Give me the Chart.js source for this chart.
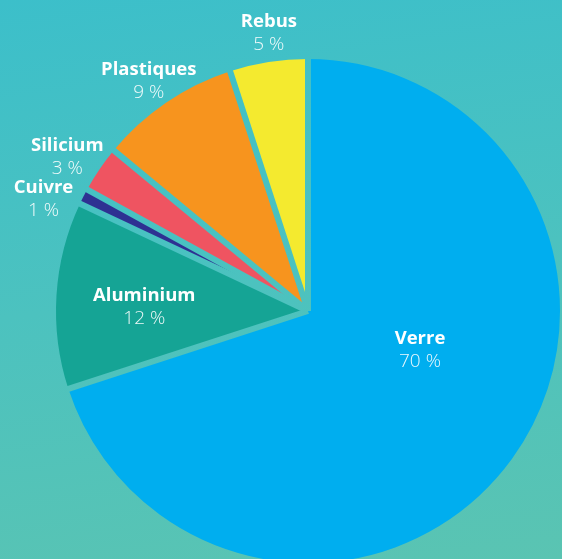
<!DOCTYPE html>
<html>
<head>
<meta charset="utf-8">
<script src="https://cdn.jsdelivr.net/npm/chart.js@4.4.0/dist/chart.umd.min.js"></script>
<style>
    html, body { margin: 0; padding: 0; }
    body {
        width: 562px;
        height: 559px;
        overflow: hidden;
        background: linear-gradient(172deg, #3cbfca 0%, #4cc2bf 50%, #5ac4b2 100%);
    }
    #wrap { position: relative; width: 562px; height: 559px; overflow: hidden; }
    canvas { position: absolute; left: 0; top: 0; }
</style>
</head>
<body>
<div id="wrap">
    <canvas id="pie" width="562" height="600"></canvas>
</div>
<script>
// Composition data (percent)
const labels = ['Verre', 'Aluminium', 'Cuivre', 'Silicium', 'Plastiques', 'Rebus'];
const values = [70, 12, 1, 3, 9, 5];
const colors = ['#00aeef', '#15a495', '#2e3192', '#ef5461', '#f7941e', '#f4ea2f'];

// Label placement: distance from centre (in radii) and angle nudge (deg) from slice middle
const labelDist = [0.47, 0.65, 1.14, 1.135, 1.11, 1.115];
const labelNudge = [-17, -2, -4, -1.5, -0.5, 1];

// Cut a gap along every slice edge so the page background shows through
const sliceGaps = {
    id: 'sliceGaps',
    afterDatasetsDraw(chart) {
        const ctx = chart.ctx;
        const arcs = chart.getDatasetMeta(0).data;
        ctx.save();
        ctx.globalCompositeOperation = 'destination-out';
        ctx.lineWidth = 6;
        ctx.lineCap = 'butt';
        arcs.forEach(arc => {
            const p = arc.getProps(['x', 'y', 'startAngle', 'outerRadius'], true);
            ctx.beginPath();
            ctx.moveTo(p.x, p.y);
            ctx.lineTo(p.x + Math.cos(p.startAngle) * (p.outerRadius + 4),
                       p.y + Math.sin(p.startAngle) * (p.outerRadius + 4));
            ctx.stroke();
        });
        ctx.restore();
    }
};

const sliceLabels = {
    id: 'sliceLabels',
    afterDatasetsDraw(chart) {
        const ctx = chart.ctx;
        const arcs = chart.getDatasetMeta(0).data;
        ctx.save();
        ctx.textAlign = 'center';
        ctx.textBaseline = 'middle';
        arcs.forEach((arc, i) => {
            const p = arc.getProps(['x', 'y', 'startAngle', 'endAngle', 'outerRadius'], true);
            const mid = (p.startAngle + p.endAngle) / 2 + labelNudge[i] * Math.PI / 180;
            const r = p.outerRadius * labelDist[i];
            const x = p.x + Math.cos(mid) * r;
            const y = p.y + Math.sin(mid) * r;

            ctx.fillStyle = '#ffffff';
            ctx.font = 'bold 18.5px "Open Sans", "DejaVu Sans", sans-serif';
            ctx.fillText(labels[i], x, y - 11);

            ctx.fillStyle = 'rgba(255, 255, 255, 0.92)';
            ctx.font = '300 19px "Open Sans", "DejaVu Sans", sans-serif';
            ctx.fillText(values[i] + ' %', x, y + 12);
        });
        ctx.restore();
    }
};

new Chart(document.getElementById('pie'), {
    type: 'pie',
    data: {
        labels: labels,
        datasets: [{
            data: values,
            backgroundColor: colors,
            borderWidth: 0
        }]
    },
    options: {
        responsive: false,
        animation: false,
        layout: {
            padding: { left: 56, top: 59, right: 2, bottom: 37 }
        },
        plugins: {
            legend: { display: false },
            tooltip: { enabled: false }
        }
    },
    plugins: [sliceGaps, sliceLabels]
});
</script>
</body>
</html>
